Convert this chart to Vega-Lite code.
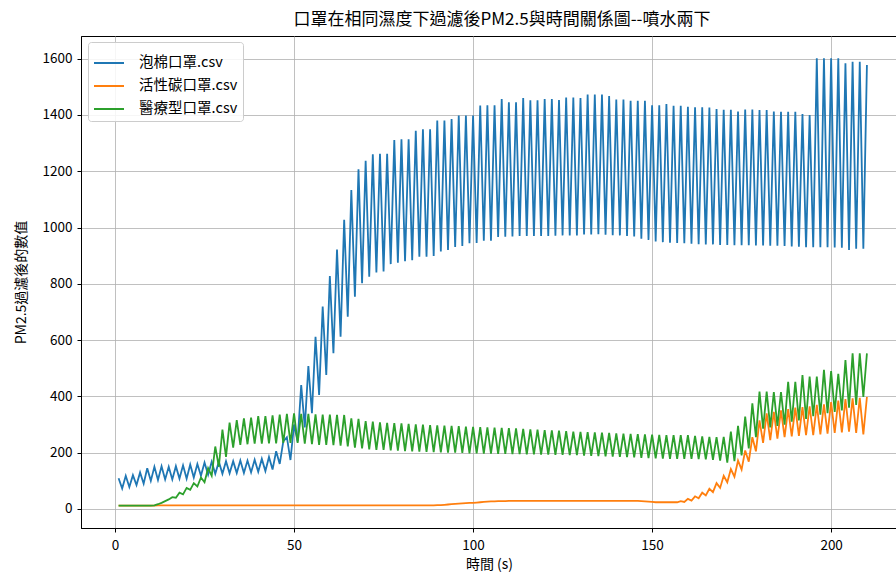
{
"$schema":"https://vega.github.io/schema/vega-lite/v6.json",
"width":816,"height":492,
"autosize":"none",
"padding":{"left":81,"top":36,"right":0,"bottom":49},
"background":"white",
"config":{"font":"Noto Sans CJK TC","view":{"stroke":"black","strokeWidth":1},
"axis":{"grid":true,"gridColor":"#b0b0b0","gridWidth":0.8,"domainColor":"black","tickColor":"black","tickSize":4,"labelFontSize":13.5,"labelColor":"black","titleFontSize":14,"titleFontWeight":"normal","titleColor":"black"}},
"title":{"text":"口罩在相同濕度下過濾後PM2.5與時間關係圖--噴水兩下","fontSize":17,"fontWeight":"normal","color":"black","dx":13,"offset":7},
"datasets":{
"foam":[{"t":1,"v":109},{"t":2,"v":73},{"t":3,"v":118},{"t":4,"v":78},{"t":5,"v":120},{"t":6,"v":85},{"t":7,"v":130},{"t":8,"v":90},{"t":9,"v":145},{"t":10,"v":100},
{"t":11,"v":150},{"t":12,"v":103},{"t":13,"v":152},{"t":14,"v":105},{"t":15,"v":150},{"t":16,"v":105},{"t":17,"v":152},{"t":18,"v":108},{"t":19,"v":155},{"t":20,"v":108},
{"t":21,"v":158},{"t":22,"v":112},{"t":23,"v":160},{"t":24,"v":118},{"t":25,"v":165},{"t":26,"v":122},{"t":27,"v":168},{"t":28,"v":125},{"t":29,"v":168},{"t":30,"v":125},
{"t":31,"v":170},{"t":32,"v":127},{"t":33,"v":170},{"t":34,"v":128},{"t":35,"v":172},{"t":36,"v":128},{"t":37,"v":172},{"t":38,"v":130},{"t":39,"v":175},{"t":40,"v":132},
{"t":41,"v":178},{"t":42,"v":135},{"t":43,"v":185},{"t":44,"v":140},{"t":45,"v":205},{"t":46,"v":160},{"t":47,"v":240},{"t":48,"v":255},{"t":49,"v":174},{"t":50,"v":300},
{"t":51,"v":240},{"t":52,"v":440},{"t":53,"v":290},{"t":54,"v":508},{"t":55,"v":340},{"t":56,"v":612},{"t":57,"v":405},{"t":58,"v":719},{"t":59,"v":476},{"t":60,"v":828},
{"t":61,"v":553},{"t":62,"v":922},{"t":63,"v":612},{"t":64,"v":1027},{"t":65,"v":683},{"t":66,"v":1133},{"t":67,"v":754},{"t":68,"v":1207},{"t":69,"v":802},{"t":70,"v":1237},
{"t":71,"v":825},{"t":72,"v":1260},{"t":73,"v":840},{"t":74,"v":1262},{"t":75,"v":844},{"t":76,"v":1262},{"t":77,"v":870},{"t":78,"v":1311},{"t":79,"v":875},{"t":80,"v":1313},
{"t":81,"v":880},{"t":82,"v":1313},{"t":83,"v":884},{"t":84,"v":1344},{"t":85,"v":896},{"t":86,"v":1349},{"t":87,"v":896},{"t":88,"v":1349},{"t":89,"v":899},{"t":90,"v":1380},
{"t":91,"v":915},{"t":92,"v":1380},{"t":93,"v":920},{"t":94,"v":1385},{"t":95,"v":931},{"t":96,"v":1398},{"t":97,"v":934},{"t":98,"v":1398},{"t":99,"v":944},{"t":100,"v":1398},
{"t":101,"v":945},{"t":102,"v":1433},{"t":103,"v":953},{"t":104,"v":1434},{"t":105,"v":953},{"t":106,"v":1434},{"t":107,"v":966},{"t":108,"v":1456},{"t":109,"v":967},{"t":110,"v":1445},
{"t":111,"v":968},{"t":112,"v":1445},{"t":113,"v":970},{"t":114,"v":1460},{"t":115,"v":970},{"t":116,"v":1452},{"t":117,"v":970},{"t":118,"v":1452},{"t":119,"v":970},{"t":120,"v":1456},
{"t":121,"v":970},{"t":122,"v":1456},{"t":123,"v":971},{"t":124,"v":1453},{"t":125,"v":972},{"t":126,"v":1462},{"t":127,"v":972},{"t":128,"v":1462},{"t":129,"v":972},{"t":130,"v":1460},
{"t":131,"v":975},{"t":132,"v":1472},{"t":133,"v":975},{"t":134,"v":1472},{"t":135,"v":976},{"t":136,"v":1472},{"t":137,"v":974},{"t":138,"v":1467},{"t":139,"v":973},{"t":140,"v":1455},
{"t":141,"v":972},{"t":142,"v":1455},{"t":143,"v":970},{"t":144,"v":1450},{"t":145,"v":968},{"t":146,"v":1450},{"t":147,"v":960},{"t":148,"v":1450},{"t":149,"v":956},{"t":150,"v":1434},
{"t":151,"v":950},{"t":152,"v":1434},{"t":153,"v":948},{"t":154,"v":1439},{"t":155,"v":946},{"t":156,"v":1432},{"t":157,"v":945},{"t":158,"v":1432},{"t":159,"v":944},{"t":160,"v":1429},
{"t":161,"v":942},{"t":162,"v":1427},{"t":163,"v":941},{"t":164,"v":1427},{"t":165,"v":940},{"t":166,"v":1426},{"t":167,"v":940},{"t":168,"v":1421},{"t":169,"v":938},{"t":170,"v":1418},
{"t":171,"v":938},{"t":172,"v":1418},{"t":173,"v":937},{"t":174,"v":1412},{"t":175,"v":937},{"t":176,"v":1419},{"t":177,"v":937},{"t":178,"v":1419},{"t":179,"v":936},{"t":180,"v":1417},
{"t":181,"v":936},{"t":182,"v":1417},{"t":183,"v":935},{"t":184,"v":1412},{"t":185,"v":935},{"t":186,"v":1411},{"t":187,"v":934},{"t":188,"v":1411},{"t":189,"v":933},{"t":190,"v":1411},
{"t":191,"v":932},{"t":192,"v":1403},{"t":193,"v":930},{"t":194,"v":1400},{"t":195,"v":930},{"t":196,"v":1601},{"t":197,"v":930},{"t":198,"v":1601},{"t":199,"v":930},{"t":200,"v":1601},
{"t":201,"v":929},{"t":202,"v":1601},{"t":203,"v":928},{"t":204,"v":1583},{"t":205,"v":920},{"t":206,"v":1589},{"t":207,"v":925},{"t":208,"v":1589},{"t":209,"v":925},{"t":210,"v":1577}],
"carbon":[{"t":1,"v":12},{"t":2,"v":12},{"t":3,"v":12},{"t":4,"v":12},{"t":5,"v":12},{"t":6,"v":12},{"t":7,"v":12},{"t":8,"v":12},{"t":9,"v":12},{"t":10,"v":12},
{"t":11,"v":12},{"t":12,"v":13},{"t":13,"v":13},{"t":14,"v":13},{"t":15,"v":13},{"t":16,"v":13},{"t":17,"v":13},{"t":18,"v":13},{"t":19,"v":13},{"t":20,"v":13},
{"t":21,"v":13},{"t":22,"v":13},{"t":23,"v":13},{"t":24,"v":13},{"t":25,"v":13},{"t":26,"v":13},{"t":27,"v":13},{"t":28,"v":13},{"t":29,"v":13},{"t":30,"v":13},
{"t":31,"v":13},{"t":32,"v":13},{"t":33,"v":13},{"t":34,"v":13},{"t":35,"v":13},{"t":36,"v":13},{"t":37,"v":13},{"t":38,"v":13},{"t":39,"v":13},{"t":40,"v":13},
{"t":41,"v":13},{"t":42,"v":13},{"t":43,"v":13},{"t":44,"v":13},{"t":45,"v":13},{"t":46,"v":13},{"t":47,"v":13},{"t":48,"v":13},{"t":49,"v":13},{"t":50,"v":13},
{"t":51,"v":13},{"t":52,"v":13},{"t":53,"v":13},{"t":54,"v":13},{"t":55,"v":13},{"t":56,"v":13},{"t":57,"v":13},{"t":58,"v":13},{"t":59,"v":13},{"t":60,"v":13},
{"t":61,"v":13},{"t":62,"v":13},{"t":63,"v":13},{"t":64,"v":13},{"t":65,"v":13},{"t":66,"v":13},{"t":67,"v":13},{"t":68,"v":13},{"t":69,"v":13},{"t":70,"v":13},
{"t":71,"v":13},{"t":72,"v":13},{"t":73,"v":13},{"t":74,"v":13},{"t":75,"v":13},{"t":76,"v":13},{"t":77,"v":13},{"t":78,"v":13},{"t":79,"v":13},{"t":80,"v":13},
{"t":81,"v":13},{"t":82,"v":13},{"t":83,"v":13},{"t":84,"v":13},{"t":85,"v":13},{"t":86,"v":13},{"t":87,"v":13},{"t":88,"v":13},{"t":89,"v":13},{"t":90,"v":14},
{"t":91,"v":14},{"t":92,"v":15},{"t":93,"v":16},{"t":94,"v":17},{"t":95,"v":18},{"t":96,"v":19},{"t":97,"v":20},{"t":98,"v":21},{"t":99,"v":22},{"t":100,"v":22},
{"t":101,"v":23},{"t":102,"v":24},{"t":103,"v":25},{"t":104,"v":26},{"t":105,"v":27},{"t":106,"v":27},{"t":107,"v":28},{"t":108,"v":28},{"t":109,"v":28},{"t":110,"v":29},
{"t":111,"v":29},{"t":112,"v":29},{"t":113,"v":29},{"t":114,"v":29},{"t":115,"v":29},{"t":116,"v":29},{"t":117,"v":29},{"t":118,"v":29},{"t":119,"v":29},{"t":120,"v":29},
{"t":121,"v":29},{"t":122,"v":29},{"t":123,"v":29},{"t":124,"v":29},{"t":125,"v":29},{"t":126,"v":29},{"t":127,"v":29},{"t":128,"v":29},{"t":129,"v":29},{"t":130,"v":29},
{"t":131,"v":29},{"t":132,"v":29},{"t":133,"v":29},{"t":134,"v":29},{"t":135,"v":29},{"t":136,"v":29},{"t":137,"v":29},{"t":138,"v":29},{"t":139,"v":29},{"t":140,"v":29},
{"t":141,"v":29},{"t":142,"v":29},{"t":143,"v":29},{"t":144,"v":29},{"t":145,"v":29},{"t":146,"v":29},{"t":147,"v":28},{"t":148,"v":27},{"t":149,"v":26},{"t":150,"v":25},
{"t":151,"v":24},{"t":152,"v":24},{"t":153,"v":24},{"t":154,"v":24},{"t":155,"v":24},{"t":156,"v":24},{"t":157,"v":24},{"t":158,"v":28},{"t":159,"v":25},{"t":160,"v":36},
{"t":161,"v":30},{"t":162,"v":45},{"t":163,"v":38},{"t":164,"v":58},{"t":165,"v":48},{"t":166,"v":72},{"t":167,"v":60},{"t":168,"v":92},{"t":169,"v":75},{"t":170,"v":118},
{"t":171,"v":95},{"t":172,"v":142},{"t":173,"v":115},{"t":174,"v":172},{"t":175,"v":140},{"t":176,"v":208},{"t":177,"v":168},{"t":178,"v":255},{"t":179,"v":205},{"t":180,"v":315},
{"t":181,"v":235},{"t":182,"v":340},{"t":183,"v":245},{"t":184,"v":345},{"t":185,"v":250},{"t":186,"v":350},{"t":187,"v":255},{"t":188,"v":355},{"t":189,"v":258},{"t":190,"v":360},
{"t":191,"v":260},{"t":192,"v":362},{"t":193,"v":262},{"t":194,"v":365},{"t":195,"v":262},{"t":196,"v":370},{"t":197,"v":265},{"t":198,"v":372},{"t":199,"v":268},{"t":200,"v":380},
{"t":201,"v":270},{"t":202,"v":385},{"t":203,"v":272},{"t":204,"v":390},{"t":205,"v":275},{"t":206,"v":393},{"t":207,"v":270},{"t":208,"v":395},{"t":209,"v":265},{"t":210,"v":398}],
"med":[{"t":1,"v":12},{"t":2,"v":12},{"t":3,"v":12},{"t":4,"v":12},{"t":5,"v":12},{"t":6,"v":12},{"t":7,"v":12},{"t":8,"v":12},{"t":9,"v":12},{"t":10,"v":12},
{"t":11,"v":13},{"t":12,"v":17},{"t":13,"v":22},{"t":14,"v":28},{"t":15,"v":34},{"t":16,"v":42},{"t":17,"v":40},{"t":18,"v":58},{"t":19,"v":52},{"t":20,"v":75},
{"t":21,"v":68},{"t":22,"v":92},{"t":23,"v":80},{"t":24,"v":112},{"t":25,"v":95},{"t":26,"v":145},{"t":27,"v":118},{"t":28,"v":222},{"t":29,"v":150},{"t":30,"v":282},
{"t":31,"v":185},{"t":32,"v":307},{"t":33,"v":218},{"t":34,"v":316},{"t":35,"v":228},{"t":36,"v":322},{"t":37,"v":230},{"t":38,"v":325},{"t":39,"v":232},{"t":40,"v":330},
{"t":41,"v":232},{"t":42,"v":330},{"t":43,"v":233},{"t":44,"v":333},{"t":45,"v":233},{"t":46,"v":335},{"t":47,"v":235},{"t":48,"v":338},{"t":49,"v":235},{"t":50,"v":340},
{"t":51,"v":235},{"t":52,"v":338},{"t":53,"v":232},{"t":54,"v":338},{"t":55,"v":230},{"t":56,"v":336},{"t":57,"v":228},{"t":58,"v":335},{"t":59,"v":228},{"t":60,"v":335},
{"t":61,"v":227},{"t":62,"v":334},{"t":63,"v":225},{"t":64,"v":334},{"t":65,"v":222},{"t":66,"v":322},{"t":67,"v":218},{"t":68,"v":320},{"t":69,"v":215},{"t":70,"v":312},
{"t":71,"v":212},{"t":72,"v":310},{"t":73,"v":210},{"t":74,"v":308},{"t":75,"v":210},{"t":76,"v":306},{"t":77,"v":208},{"t":78,"v":305},{"t":79,"v":207},{"t":80,"v":304},
{"t":81,"v":206},{"t":82,"v":302},{"t":83,"v":205},{"t":84,"v":301},{"t":85,"v":204},{"t":86,"v":300},{"t":87,"v":203},{"t":88,"v":298},{"t":89,"v":202},{"t":90,"v":297},
{"t":91,"v":201},{"t":92,"v":296},{"t":93,"v":200},{"t":94,"v":295},{"t":95,"v":200},{"t":96,"v":294},{"t":97,"v":199},{"t":98,"v":293},{"t":99,"v":198},{"t":100,"v":292},
{"t":101,"v":198},{"t":102,"v":291},{"t":103,"v":197},{"t":104,"v":290},{"t":105,"v":197},{"t":106,"v":289},{"t":107,"v":196},{"t":108,"v":288},{"t":109,"v":196},{"t":110,"v":287},
{"t":111,"v":195},{"t":112,"v":286},{"t":113,"v":195},{"t":114,"v":285},{"t":115,"v":194},{"t":116,"v":283},{"t":117,"v":194},{"t":118,"v":282},{"t":119,"v":193},{"t":120,"v":280},
{"t":121,"v":193},{"t":122,"v":279},{"t":123,"v":192},{"t":124,"v":278},{"t":125,"v":192},{"t":126,"v":277},{"t":127,"v":191},{"t":128,"v":275},{"t":129,"v":191},{"t":130,"v":274},
{"t":131,"v":190},{"t":132,"v":273},{"t":133,"v":189},{"t":134,"v":272},{"t":135,"v":188},{"t":136,"v":271},{"t":137,"v":187},{"t":138,"v":270},{"t":139,"v":186},{"t":140,"v":269},
{"t":141,"v":185},{"t":142,"v":268},{"t":143,"v":184},{"t":144,"v":267},{"t":145,"v":183},{"t":146,"v":266},{"t":147,"v":182},{"t":148,"v":265},{"t":149,"v":181},{"t":150,"v":264},
{"t":151,"v":180},{"t":152,"v":263},{"t":153,"v":179},{"t":154,"v":262},{"t":155,"v":178},{"t":156,"v":262},{"t":157,"v":178},{"t":158,"v":262},{"t":159,"v":178},{"t":160,"v":262},
{"t":161,"v":178},{"t":162,"v":260},{"t":163,"v":177},{"t":164,"v":258},{"t":165,"v":176},{"t":166,"v":256},{"t":167,"v":175},{"t":168,"v":255},{"t":169,"v":172},{"t":170,"v":256},
{"t":171,"v":165},{"t":172,"v":275},{"t":173,"v":170},{"t":174,"v":295},{"t":175,"v":190},{"t":176,"v":328},{"t":177,"v":215},{"t":178,"v":375},{"t":179,"v":255},{"t":180,"v":417},
{"t":181,"v":285},{"t":182,"v":417},{"t":183,"v":290},{"t":184,"v":415},{"t":185,"v":295},{"t":186,"v":415},{"t":187,"v":300},{"t":188,"v":452},{"t":189,"v":310},{"t":190,"v":452},
{"t":191,"v":315},{"t":192,"v":476},{"t":193,"v":320},{"t":194,"v":470},{"t":195,"v":330},{"t":196,"v":470},{"t":197,"v":335},{"t":198,"v":494},{"t":199,"v":340},{"t":200,"v":490},
{"t":201,"v":345},{"t":202,"v":480},{"t":203,"v":350},{"t":204,"v":529},{"t":205,"v":360},{"t":206,"v":553},{"t":207,"v":370},{"t":208,"v":553},{"t":209,"v":398},{"t":210,"v":553}]
},
"encoding":{
"x":{"field":"t","type":"quantitative","scale":{"domain":[-9.5,218.4],"nice":false,"zero":false},"axis":{"title":"時間 (s)","values":[0,50,100,150,200],"format":"d","labelPadding":6,"titlePadding":6}},
"y":{"field":"v","type":"quantitative","scale":{"domain":[-67.5,1680.3],"nice":false,"zero":false},"axis":{"title":"PM2.5過濾後的數值","values":[0,200,400,600,800,1000,1200,1400,1600],"format":"d","labelPadding":5,"titlePadding":14}}
},
"layer":[
{"data":{"name":"foam"},"mark":{"type":"line","strokeWidth":1.8},"encoding":{"color":{"datum":"泡棉口罩.csv","type":"nominal","scale":{"domain":["泡棉口罩.csv","活性碳口罩.csv","醫療型口罩.csv"],"range":["#1f77b4","#ff7f0e","#2ca02c"]},"legend":{"title":null,"orient":"none","legendX":7,"legendY":6,"symbolType":"stroke","symbolSize":900,"symbolStrokeWidth":2,"labelFontSize":14.5,"labelColor":"black","fillColor":"rgba(255,255,255,0.85)","strokeColor":"#cccccc","padding":5,"cornerRadius":3,"rowPadding":-2,"labelOffset":14}}}},
{"data":{"name":"carbon"},"mark":{"type":"line","strokeWidth":1.8},"encoding":{"color":{"datum":"活性碳口罩.csv","type":"nominal"}}},
{"data":{"name":"med"},"mark":{"type":"line","strokeWidth":1.8},"encoding":{"color":{"datum":"醫療型口罩.csv","type":"nominal"}}}
]
}
